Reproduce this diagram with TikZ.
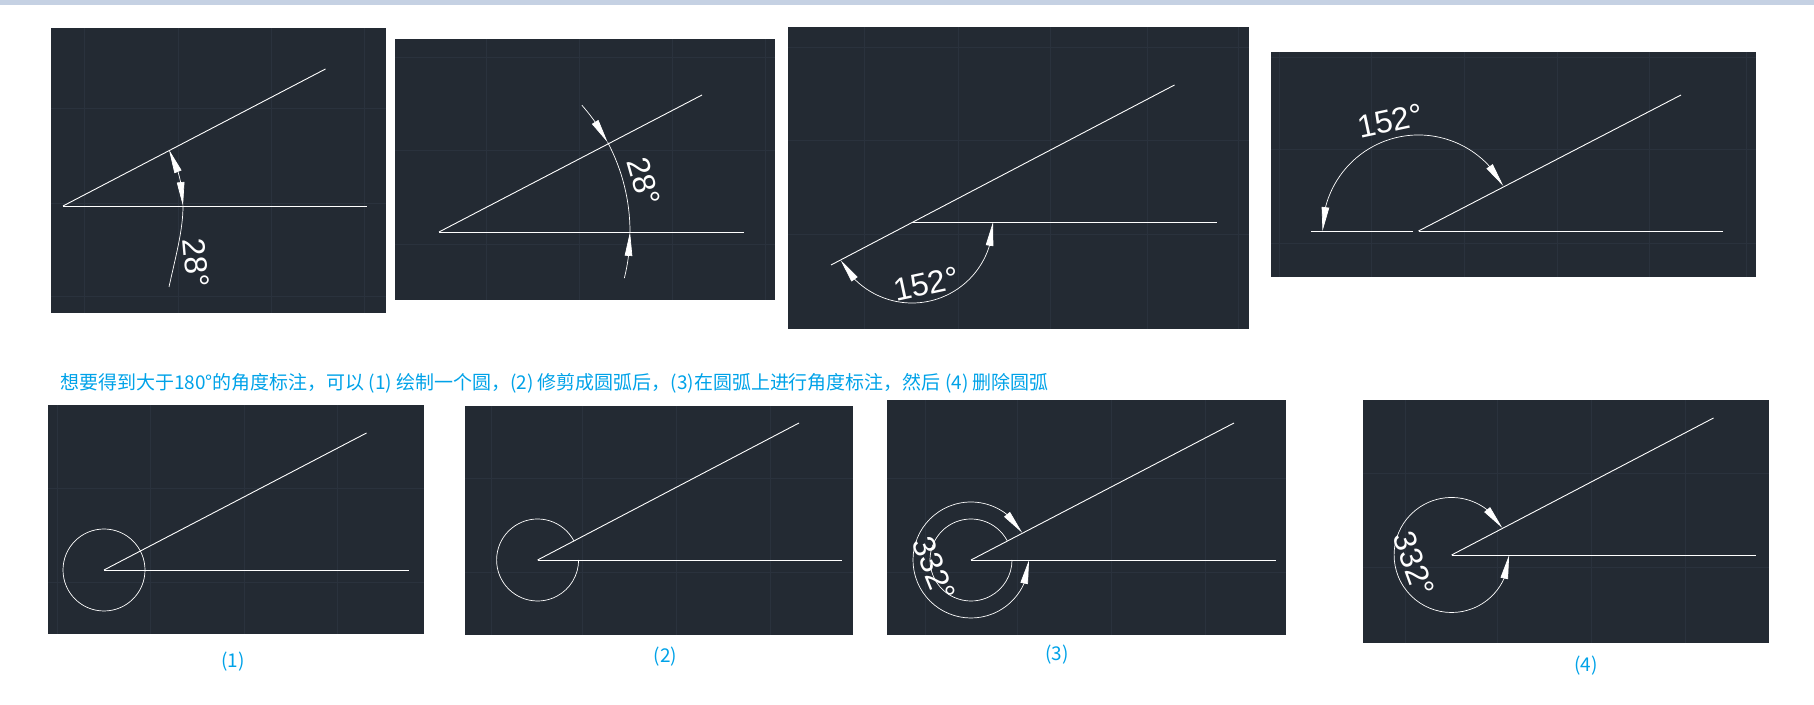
\documentclass[tikz,border=0pt]{standalone}
\usepackage{fontspec}
\setmainfont{Liberation Sans}
\newfontfamily\cjk{Noto Sans CJK SC}
\usetikzlibrary{arrows.meta,bending}
\definecolor{panelbg}{RGB}{35,42,51}
\definecolor{panelgrid}{RGB}{42,50,61}
\definecolor{topbar}{RGB}{197,209,227}
\definecolor{noteblue}{RGB}{0,162,232}
\tikzset{
  cadline/.style={white,line width=0.9pt},
  dimline/.style={white,line width=0.7pt},
  gridline/.style={panelgrid,line width=0.7pt},
  dimtext/.style={white,font=\fontsize{32}{32}\selectfont,inner sep=0pt},
  notetext/.style={noteblue,font=\cjk\fontsize{19.05}{19}\selectfont,inner sep=0pt},
}
\begin{document}
\begin{tikzpicture}[x=1bp,y=1bp,>={Stealth[inset=0pt,length=24pt,width=7.5pt,flex]}]
  \useasboundingbox (0,0) rectangle (1814,705);
  \fill[topbar] (0,700) rectangle (1814,705);

  \fill[panelbg] (51,392) rectangle (386,677);
  \foreach \x in {84,178,271,364} \draw[gridline] (\x,392) -- (\x,677);
  \foreach \y in {597,502,409} \draw[gridline] (51,\y) -- (386,\y);
  \coordinate (oA) at (63,499);
  \coordinate (hA) at (367,499);
  \coordinate (rA) at (325.5,636);
  \coordinate (tA) at (169,418);
  \draw[cadline] (oA) -- (hA);
  \draw[cadline] (oA) -- (rA);
  \draw[dimline,->] (oA) ++(14:120) arc (14:28:120);
  \draw[dimline,->] (oA) ++(14:120) arc (14:0:120);
  \draw[dimline] (tA) .. controls (176,450) and (183,475) .. (183,499);
  \node[dimtext,rotate=-85] (lA) at (196,442) {28°};

  \fill[panelbg] (395,405) rectangle (775,666);
  \foreach \x in {486,579,672,765} \draw[gridline] (\x,405) -- (\x,666);
  \foreach \y in {648,555,461} \draw[gridline] (395,\y) -- (775,\y);
  \coordinate (oB) at (439,473);
  \coordinate (hB) at (744,473);
  \coordinate (rB) at (702,610);
  \draw[cadline] (oB) -- (hB);
  \draw[cadline] (oB) -- (rB);
  \draw[dimline,->] (oB) ++(41.6:191) arc (41.6:28:191);
  \draw[dimline] (oB) ++(28:191) arc (28:0:191);
  \draw[dimline,->] (oB) ++(-14:191) arc (-14:0:191);
  \node[dimtext,rotate=-74] (lB) at (644,523) {28°};

  \fill[panelbg] (788,376) rectangle (1249,678);
  \foreach \x in {864,958,1050,1147,1238} \draw[gridline] (\x,376) -- (\x,678);
  \foreach \y in {658,565,471} \draw[gridline] (788,\y) -- (1249,\y);
  \coordinate (oC) at (912,483);
  \coordinate (hC) at (1217,483);
  \coordinate (rC) at (1174.5,620);
  \coordinate (bC) at (831,440);
  \draw[cadline] (oC) -- (hC);
  \draw[cadline] (bC) -- (rC);
  \draw[dimline,<->] (oC) ++(208:81) arc (208:360:81);
  \node[dimtext,rotate=12] (lC) at (926,421) {152°};

  \fill[panelbg] (1271,428) rectangle (1756,653);
  \foreach \x in {1279,1371,1464,1557,1649,1746} \draw[gridline] (\x,428) -- (\x,653);
  \foreach \y in {648,556,462} \draw[gridline] (1271,\y) -- (1756,\y);
  \coordinate (oD) at (1418.5,474);
  \coordinate (hD) at (1723,474);
  \coordinate (rD) at (1681,610);
  \coordinate (eD) at (1311,474);
  \coordinate (fD) at (1413,474);
  \draw[cadline] (oD) -- (hD);
  \draw[cadline] (oD) -- (rD);
  \draw[cadline] (eD) -- (fD);
  \draw[dimline,<->] (oD) ++(28:96) arc (28:180:96);
  \node[dimtext,rotate=12] (lD) at (1390,584) {152°};

  \node[notetext,anchor=west] (note) at (60,322) {想要得到大于180°的角度标注，可以 (1) 绘制一个圆，(2) 修剪成圆弧后，(3)在圆弧上进行角度标注，然后 (4) 删除圆弧};

  \fill[panelbg] (48,71) rectangle (424,300);
  \foreach \x in {57,150,244,337} \draw[gridline] (\x,71) -- (\x,300);
  \foreach \y in {217,123} \draw[gridline] (48,\y) -- (424,\y);
  \coordinate (oE) at (104,135);
  \coordinate (hE) at (409,135);
  \coordinate (rE) at (366.5,272);
  \draw[cadline] (oE) -- (hE);
  \draw[cadline] (oE) -- (rE);
  \draw[dimline] (oE) circle (41);
  \node[notetext] (capE) at (233,43) {(1)};

  \fill[panelbg] (465,70) rectangle (853,299);
  \foreach \x in {491,582.5,676,770} \draw[gridline] (\x,70) -- (\x,299);
  \foreach \y in {227,133} \draw[gridline] (465,\y) -- (853,\y);
  \coordinate (oF) at (537.6,145);
  \coordinate (hF) at (842,145);
  \coordinate (rF) at (799,282);
  \draw[cadline] (oF) -- (hF);
  \draw[cadline] (oF) -- (rF);
  \draw[dimline] (oF) ++(28:41) arc (28:360:41);
  \node[notetext] (capF) at (665.5,48) {(2)};

  \fill[panelbg] (887,70) rectangle (1286,305);
  \foreach \x in {925,1017.5,1111,1205} \draw[gridline] (\x,70) -- (\x,305);
  \foreach \y in {227,133} \draw[gridline] (887,\y) -- (1286,\y);
  \coordinate (oG) at (971,145);
  \coordinate (hG) at (1276,145);
  \coordinate (rG) at (1234,282);
  \draw[cadline] (oG) -- (hG);
  \draw[cadline] (oG) -- (rG);
  \draw[dimline] (oG) ++(28:41) arc (28:360:41);
  \draw[dimline,<->] (oG) ++(28:58) arc (28:360:58);
  \node[dimtext,rotate=-68] (lG) at (934,136) {332°};
  \node[notetext] (capG) at (1057,50) {(3)};

  \fill[panelbg] (1363,62) rectangle (1769,305);
  \foreach \x in {1405,1497,1591,1685} \draw[gridline] (\x,62) -- (\x,305);
  \foreach \y in {232,138} \draw[gridline] (1363,\y) -- (1769,\y);
  \coordinate (oH) at (1451.6,150);
  \coordinate (hH) at (1756,150);
  \coordinate (rH) at (1713.5,287);
  \draw[cadline] (oH) -- (hH);
  \draw[cadline] (oH) -- (rH);
  \draw[dimline,<->] (oH) ++(28:57.5) arc (28:360:57.5);
  \node[dimtext,rotate=-70] (lH) at (1414,141) {332°};
  \node[notetext] (capH) at (1586,39) {(4)};
\end{tikzpicture}
\end{document}
